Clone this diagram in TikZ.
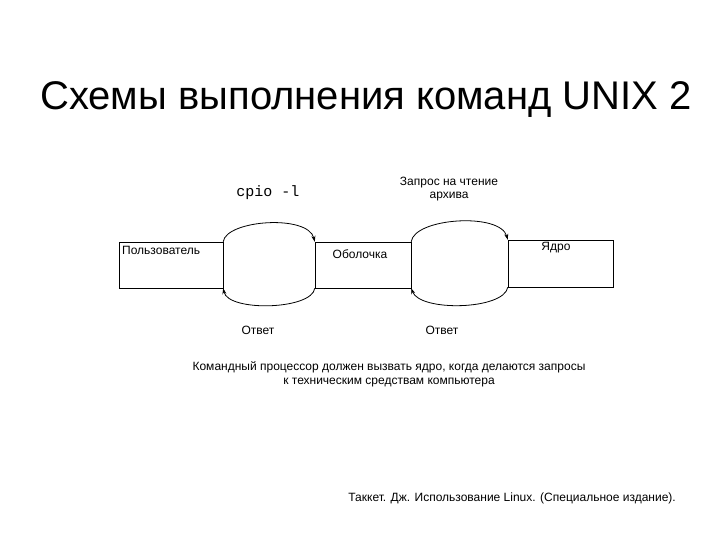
\documentclass[tikz,border=0pt]{standalone}
\usepackage{fontspec}
\usetikzlibrary{arrows.meta}
\setmainfont{Liberation Sans}
\newfontfamily\monof{Liberation Mono}
\begin{document}
\begin{tikzpicture}[x=1pt,y=-1pt,
 box/.style={draw,thin,inner sep=0},
 lbl/.style={font=\fontsize{12}{14}\selectfont,align=center,inner sep=0},
 arr/.style={->,>={Stealth[length=6pt,width=4pt]},thick}]
\useasboundingbox (0,0) rectangle (720,540);
\node[font=\fontsize{40}{44}\selectfont,inner sep=0] (title) at (366,100) {Схемы выполнения команд UNIX 2};
\node[box,minimum width=104pt,minimum height=46pt] (u) at (171,265) {};
\node[box,minimum width=96pt,minimum height=46pt] (s) at (363,265) {};
\node[box,minimum width=105pt,minimum height=47pt] (k) at (560.5,263.5) {};
\node[lbl,anchor=west] (ut) at (122,250) {Пользователь};
\node[lbl] (st) at (360,254) {Оболочка};
\node[lbl] (kt) at (556,248) {Ядро};
\node[font=\monof\fontsize{15}{16}\selectfont,inner sep=0] (cp) at (268,193) {cpio -l};
\node[lbl,font=\fontsize{12}{13}\selectfont] (zap) at (449,189) {Запрос на чтение\\архива};
\node[lbl] (o1) at (258,330) {Ответ};
\node[lbl] (o2) at (442,330) {Ответ};
\draw[arr] (u.north east) .. controls (226,220) and (308,214) .. (s.north west);
\draw[arr] (s.south west) .. controls (312,310) and (228,312) .. (u.south east);
\draw[arr] (s.north east) .. controls (414,218) and (500,212) .. (k.north west);
\draw[arr] (k.south west) .. controls (504,310) and (420,312) .. (s.south east);
\node[lbl,font=\fontsize{12}{14}\selectfont] (cap) at (389,374) {Командный процессор должен вызвать ядро, когда делаются запросы\\к техническим средствам компьютера};
\node[lbl,anchor=east] (cit) at (676,498) {Таккет. Дж. Использование Linux. (Специальное издание).};
\end{tikzpicture}
\end{document}
